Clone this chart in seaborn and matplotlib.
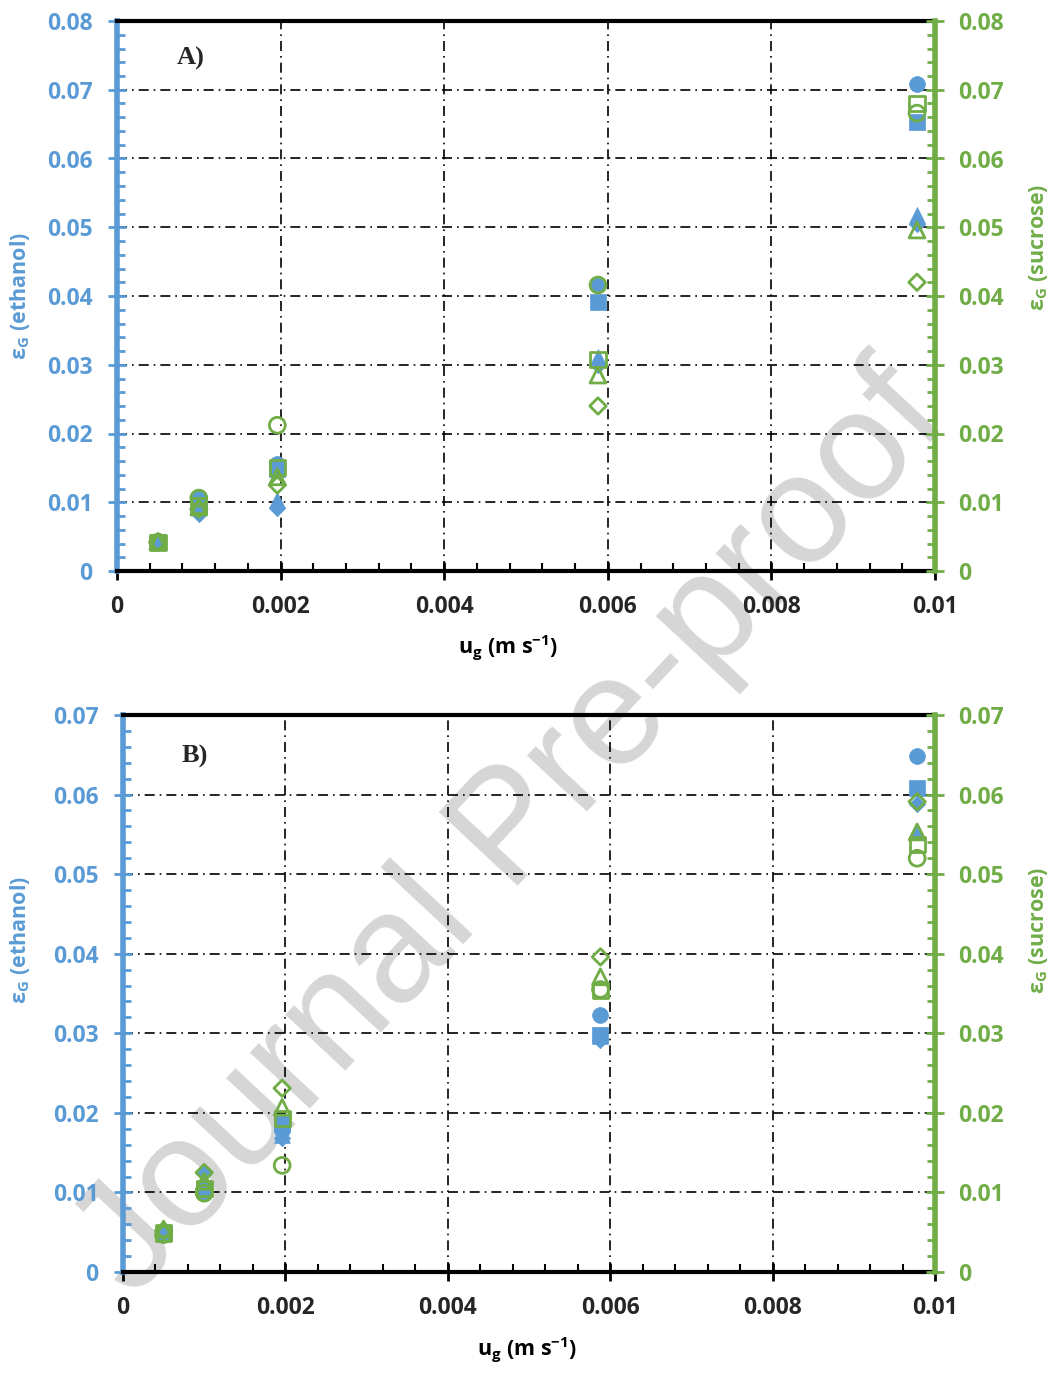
import numpy as np
import pandas as pd
import matplotlib
matplotlib.use("Agg")
import matplotlib.pyplot as plt
from matplotlib.ticker import MultipleLocator, FuncFormatter
import seaborn as sns

# Superficial gas velocity (m/s)
ug = [0.0005, 0.001, 0.00196, 0.00588, 0.00978]

# Panel A: gas hold-up
a_eth_circle = [0.0043, 0.0108, 0.0155, 0.0416, 0.0708]
a_eth_square = [0.0042, 0.0096, 0.0148, 0.0391, 0.0653]
a_eth_triangle = [0.0044, 0.0097, 0.0103, 0.0312, 0.0518]
a_eth_diamond = [0.0042, 0.0083, 0.0091, 0.0300, 0.0505]
a_suc_circle = [0.0042, 0.0106, 0.0212, 0.0416, 0.0666]
a_suc_square = [0.0042, 0.0095, 0.0150, 0.0308, 0.0680]
a_suc_triangle = [0.0043, 0.0093, 0.0137, 0.0285, 0.0496]
a_suc_diamond = [0.0042, 0.0090, 0.0125, 0.0240, 0.0420]

# Panel B: gas hold-up
b_eth_circle = [0.0048, 0.0100, 0.0178, 0.0323, 0.0648]
b_eth_square = [0.0049, 0.0104, 0.0186, 0.0298, 0.0608]
b_eth_triangle = [0.0050, 0.0113, 0.0172, 0.0296, 0.0553]
b_eth_diamond = [0.0051, 0.0124, 0.0168, 0.0292, 0.0588]
b_suc_circle = [0.0047, 0.0099, 0.0134, 0.0355, 0.0520]
b_suc_square = [0.0049, 0.0105, 0.0193, 0.0354, 0.0537]
b_suc_triangle = [0.0054, 0.0114, 0.0207, 0.0371, 0.0553]
b_suc_diamond = [0.0052, 0.0125, 0.0231, 0.0396, 0.0591]

BLUE = "#5B9BD5"
GREEN = "#70AD47"

sns.set_theme(style="white")
plt.rcParams["font.family"] = ["Open Sans", "DejaVu Sans"]
plt.rcParams["mathtext.fontset"] = "custom"
plt.rcParams["mathtext.rm"] = "Open Sans"

fig = plt.figure(figsize=(10.54, 13.74), dpi=100)

W, H = 1054, 1374


def frac_box(l, t, r, b):
    return [l / W, 1 - b / H, (r - l) / W, (b - t) / H]


marker_sizes = {"o": 130, "s": 120, "^": 130, "D": 70}
TICK_FS = 16.5


def draw_panel(box, ymax, eth, suc, tag, tag_xy):
    ax = fig.add_axes(box)
    ax.patch.set_visible(False)
    ax2 = ax.twinx()
    ax2.patch.set_visible(False)

    for marker, vals in zip(["o", "s", "^", "D"], eth):
        df = pd.DataFrame({"ug": ug, "eps": vals})
        sns.scatterplot(data=df, x="ug", y="eps", ax=ax, marker=marker,
                        s=marker_sizes[marker], color=BLUE, edgecolor=BLUE,
                        linewidth=0.5, zorder=3, legend=False)
    for marker, vals in zip(["o", "s", "^", "D"], suc):
        df = pd.DataFrame({"ug": ug, "eps": vals})
        sns.scatterplot(data=df, x="ug", y="eps", ax=ax2, marker=marker,
                        s=marker_sizes[marker], facecolor="none",
                        edgecolor=GREEN, linewidth=2.0, zorder=4, legend=False)

    for a in (ax, ax2):
        a.set_xlim(0, 0.01)
        a.set_ylim(0, ymax)
        a.set_xlabel("")
        a.set_ylabel("")

    ax.xaxis.set_major_locator(MultipleLocator(0.002))
    ax.xaxis.set_minor_locator(MultipleLocator(0.0004))
    for a in (ax, ax2):
        a.yaxis.set_major_locator(MultipleLocator(0.01))
        a.yaxis.set_minor_locator(MultipleLocator(0.002))

    fmt = FuncFormatter(lambda v, p: "0" if abs(v) < 1e-12 else f"{v:g}")
    ax.xaxis.set_major_formatter(fmt)
    ax.yaxis.set_major_formatter(fmt)
    ax2.yaxis.set_major_formatter(fmt)

    ax.grid(True, which="major", color="black", linestyle=(0, (6, 3, 1, 3)),
            linewidth=1.2)
    ax.set_axisbelow(True)

    for a in (ax, ax2):
        for s in a.spines.values():
            s.set_visible(False)
    ax.spines["left"].set_visible(True)
    ax.spines["left"].set_color(BLUE)
    ax.spines["left"].set_linewidth(4)
    ax.spines["bottom"].set_visible(True)
    ax.spines["bottom"].set_color("black")
    ax.spines["bottom"].set_linewidth(3)
    ax.spines["top"].set_visible(True)
    ax.spines["top"].set_color("black")
    ax.spines["top"].set_linewidth(3)
    ax2.spines["right"].set_visible(True)
    ax2.spines["right"].set_color(GREEN)
    ax2.spines["right"].set_linewidth(4)

    ax.tick_params(axis="x", which="major", direction="inout", length=13,
                   width=2, color="black", labelsize=TICK_FS, pad=11,
                   bottom=True, top=False)
    ax.tick_params(axis="x", which="minor", direction="in", length=6,
                   width=1.5, color="black", bottom=True, top=False)
    ax.tick_params(axis="y", which="major", direction="inout", length=13,
                   width=2, color=BLUE, labelcolor=BLUE, labelsize=TICK_FS,
                   pad=11, left=True, right=False)
    ax.tick_params(axis="y", which="minor", direction="in", length=6,
                   width=2, color=BLUE, left=True, right=False)
    ax2.tick_params(axis="y", which="major", direction="inout", length=13,
                    width=2, color=GREEN, labelcolor=GREEN, labelsize=TICK_FS,
                    pad=10, right=True, left=False)
    ax2.tick_params(axis="y", which="minor", direction="in", length=6,
                    width=2, color=GREEN, right=True, left=False)
    for lab in (ax.get_xticklabels() + ax.get_yticklabels()
                + ax2.get_yticklabels()):
        lab.set_fontweight("bold")

    ax.text(tag_xy[0], tag_xy[1], tag, transform=ax.transAxes,
            fontsize=19, fontweight="bold", family="Liberation Serif",
            ha="center", va="center")
    return ax, ax2


draw_panel(frac_box(117, 21, 935, 571), 0.08,
           [a_eth_circle, a_eth_square, a_eth_triangle, a_eth_diamond],
           [a_suc_circle, a_suc_square, a_suc_triangle, a_suc_diamond],
           "A)", (0.09, 0.932))
draw_panel(frac_box(123, 715, 935, 1272), 0.07,
           [b_eth_circle, b_eth_square, b_eth_triangle, b_eth_diamond],
           [b_suc_circle, b_suc_square, b_suc_triangle, b_suc_diamond],
           "B)", (0.089, 0.925))

label_kw = dict(fontsize=15.5, fontweight="bold", rotation=90,
                ha="center", va="center")
fig.text(20 / W, 1 - 296 / H, "\u03b5$_\\mathregular{G}$ (ethanol)",
         color=BLUE, **label_kw)
fig.text(1038 / W, 1 - 247 / H, "\u03b5$_\\mathregular{G}$ (sucrose)",
         color=GREEN, **label_kw)
fig.text(20 / W, 1 - 940 / H, "\u03b5$_\\mathregular{G}$ (ethanol)",
         color=BLUE, **label_kw)
fig.text(1038 / W, 1 - 930 / H, "\u03b5$_\\mathregular{G}$ (sucrose)",
         color=GREEN, **label_kw)

xl_kw = dict(fontsize=15.5, fontweight="bold", ha="center", va="center",
             color="black")
fig.text(508 / W, 1 - 648 / H, "u$_\\mathregular{g}$ (m s$^\\mathregular{-1}$)",
         **xl_kw)
fig.text(527 / W, 1 - 1350 / H, "u$_\\mathregular{g}$ (m s$^\\mathregular{-1}$)",
         **xl_kw)

fig.text(0.486, 0.394, "Journal Pre-proof", fontsize=112, color="#d6d6d6",
         rotation=47, ha="center", va="center", zorder=-1,
         family="Liberation Sans")

fig.savefig("out.png", dpi=100)
